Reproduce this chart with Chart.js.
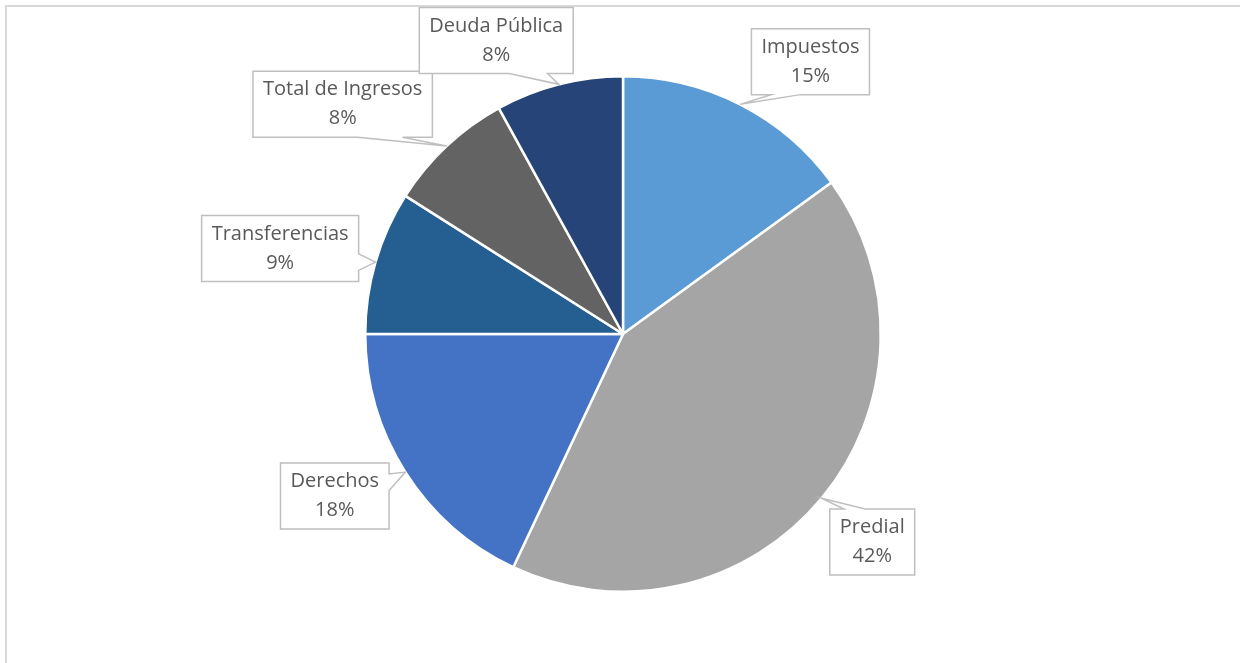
<!DOCTYPE html>
<html>
<head>
<meta charset="utf-8">
<script src="https://cdn.jsdelivr.net/npm/chart.js@4"></script>
<style>
  html, body { margin: 0; padding: 0; background: #fff; }
  #wrap { position: relative; width: 1240px; height: 663px; overflow: hidden; }
  #frame {
    position: absolute; left: 5px; top: 5px; width: 1250px; height: 680px;
    border-top: 2px solid #d9d9d9; border-left: 2px solid #d9d9d9;
  }
  canvas { position: absolute; left: 0; top: 0; }
</style>
</head>
<body>
<div id="wrap">
  <div id="frame"></div>
  <canvas id="pie" width="1240" height="663"></canvas>
</div>
<script>
// ingresos por rubro (porcentaje)
const categories = ['Impuestos', 'Predial', 'Derechos', 'Transferencias', 'Total de Ingresos', 'Deuda Pública'];
const values = [15, 42, 18, 9, 8, 8];
const colors = ['#5B9BD5', '#A5A5A5', '#4472C4', '#255E91', '#636363', '#264478'];

// callout boxes with a wedge pointing at the slice
const callouts = {
  id: 'callouts',
  afterDatasetsDraw(chart, args, opts) {
    const ctx = chart.ctx;
    const meta = chart.getDatasetMeta(0);
    const data = chart.data.datasets[0].data;
    const total = data.reduce((a, b) => a + b, 0);

    ctx.save();
    ctx.font = opts.font;
    meta.data.forEach((arc, i) => {
      const p = arc.getProps(['x', 'y', 'startAngle', 'endAngle', 'outerRadius'], true);
      const nudge = opts.nudge[i] || {};
      const mid = (p.startAngle + p.endAngle) / 2;
      const tipA = mid + (nudge.tip || 0) * Math.PI / 180;
      const tipX = p.x + Math.cos(tipA) * p.outerRadius;
      const tipY = p.y + Math.sin(tipA) * p.outerRadius;

      const lines = [chart.data.labels[i], Math.round(data[i] / total * 100) + '%'];
      const tw = Math.max(...lines.map(s => ctx.measureText(s).width));
      const w = tw + opts.padX * 2;
      const h = lines.length * opts.lineHeight + opts.padY * 2;
      const hc = p.x + Math.cos(mid) * p.outerRadius * opts.distance + (nudge.dx || 0);
      const vc = p.y + Math.sin(mid) * p.outerRadius * opts.distance + (nudge.dy || 0);
      const l = hc - w / 2, t = vc - h / 2, r = hc + w / 2, b = vc + h / 2;

      // wedgeRectCallout geometry
      const dx = tipX - hc, dy = tipY - vc;
      const dz = Math.abs(dy) - Math.abs(dx * h / w);
      const x1 = l + w * (dx > 0 ? 7 : 2) / 12, x2 = l + w * (dx > 0 ? 10 : 5) / 12;
      const y1 = t + h * (dy > 0 ? 7 : 2) / 12, y2 = t + h * (dy > 0 ? 10 : 5) / 12;
      let side;
      if (dz > 0) side = dy < 0 ? 'top' : 'bottom';
      else side = dx < 0 ? 'left' : 'right';

      ctx.beginPath();
      ctx.moveTo(l, t);
      if (side === 'top') { ctx.lineTo(x1, t); ctx.lineTo(tipX, tipY); ctx.lineTo(x2, t); }
      ctx.lineTo(r, t);
      if (side === 'right') { ctx.lineTo(r, y1); ctx.lineTo(tipX, tipY); ctx.lineTo(r, y2); }
      ctx.lineTo(r, b);
      if (side === 'bottom') { ctx.lineTo(x2, b); ctx.lineTo(tipX, tipY); ctx.lineTo(x1, b); }
      ctx.lineTo(l, b);
      if (side === 'left') { ctx.lineTo(l, y2); ctx.lineTo(tipX, tipY); ctx.lineTo(l, y1); }
      ctx.closePath();
      ctx.fillStyle = '#fff';
      ctx.fill();
      ctx.lineWidth = 1.5;
      ctx.strokeStyle = '#bfbfbf';
      ctx.stroke();

      ctx.fillStyle = opts.color;
      ctx.textAlign = 'center';
      ctx.textBaseline = 'middle';
      lines.forEach((s, k) => {
        const ly = vc + (k - (lines.length - 1) / 2) * opts.lineHeight;
        ctx.fillText(s, hc, ly);
      });
    });
    ctx.restore();
  }
};

new Chart(document.getElementById('pie'), {
  type: 'pie',
  data: {
    labels: categories,
    datasets: [{
      data: values,
      backgroundColor: colors,
      borderColor: '#fff',
      borderWidth: 2.5
    }]
  },
  options: {
    responsive: false,
    animation: false,
    layout: { padding: { top: 75, bottom: 70, left: 100, right: 94 } },
    plugins: {
      legend: { display: false },
      tooltip: { enabled: false },
      callouts: {
        font: '20px "Open Sans", "Noto Sans", sans-serif',
        color: '#595959',
        distance: 1.26,
        lineHeight: 29,
        padX: 10,
        padY: 4,
        nudge: [
          { dx: 40, dy: 17 },
          { dx: -1, dy: 1 },
          { dx: -14, dy: -12 },
          { dx: -31, dy: 5 },
          { dx: -58, dy: 7 },
          { dx: -46, dy: 21 }
        ]
      }
    }
  },
  plugins: [callouts]
});
</script>
</body>
</html>
